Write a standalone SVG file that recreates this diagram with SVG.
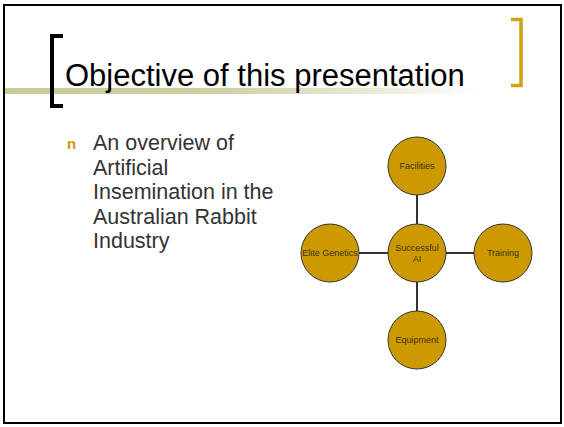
<svg xmlns="http://www.w3.org/2000/svg" width="564" height="427" viewBox="0 0 564 427">
<defs>
<linearGradient id="bar" x1="0" y1="0" x2="1" y2="0">
<stop offset="0" stop-color="#c9c99b"/>
<stop offset="0.45" stop-color="#cfcfa4"/>
<stop offset="1" stop-color="#ffffff"/>
</linearGradient>
<style>
.node circle{fill:#cc9900;stroke:#333333;stroke-width:1}
.node text{font-family:"Liberation Sans",Arial,sans-serif;font-size:9px;fill:#3d3300;text-anchor:middle}
.conn line{stroke:#333333;stroke-width:2}
.body{font-family:"Liberation Sans",Arial,sans-serif;font-size:21.5px;fill:#333333}
</style>
</defs>
<rect x="0" y="0" width="564" height="427" fill="#ffffff"/>
<rect x="4" y="5" width="557" height="418" fill="none" stroke="#000000" stroke-width="2"/>
<rect x="5" y="88" width="478" height="6" fill="url(#bar)"/>
<path d="M63,36 H52 V106 H63" fill="none" stroke="#000000" stroke-width="4"/>
<path d="M511,19.5 H521 V85.5 H511" fill="none" stroke="#d4a00f" stroke-width="3.5"/>
<text x="65" y="86" font-family="'Liberation Sans',Arial,sans-serif" font-size="31" fill="#000000">Objective of this presentation</text>
<text x="67" y="149" font-family="'Liberation Sans',Arial,sans-serif" font-size="15" font-weight="bold" fill="#cc9900">n</text>
<text class="body">
<tspan x="93" y="150">An overview of</tspan>
<tspan x="93" y="174.5">Artificial</tspan>
<tspan x="93" y="199">Insemination in the</tspan>
<tspan x="93" y="223.5">Australian Rabbit</tspan>
<tspan x="93" y="248">Industry</tspan>
</text>
<g class="conn">
<line x1="417" y1="194" x2="417" y2="224"/>
<line x1="417" y1="282" x2="417" y2="311"/>
<line x1="359" y1="253" x2="388" y2="253"/>
<line x1="446" y1="253" x2="474" y2="253"/>
</g>
<g id="center" class="node"><circle cx="417" cy="253" r="29"/><text x="417" y="251">Successful</text><text x="417" y="262">AI</text></g>
<g id="facilities" class="node"><circle cx="417" cy="166" r="29"/><text x="417" y="169">Facilities</text></g>
<g id="elite" class="node"><circle cx="330" cy="253" r="29"/><text x="330" y="256">Elite Genetics</text></g>
<g id="training" class="node"><circle cx="503" cy="253" r="29"/><text x="503" y="256">Training</text></g>
<g id="equipment" class="node"><circle cx="417" cy="340" r="29"/><text x="417" y="343">Equipment</text></g>
</svg>
